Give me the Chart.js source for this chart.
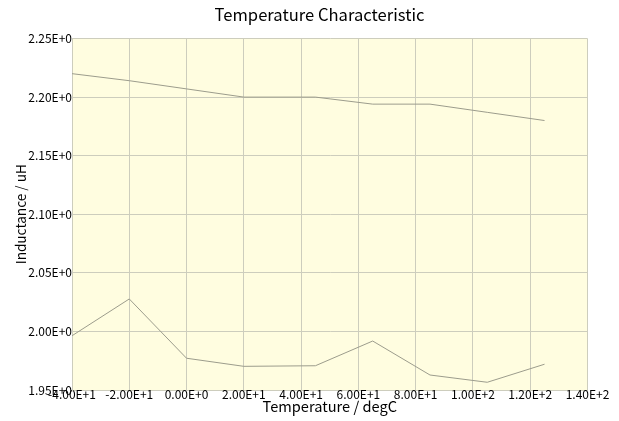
<!DOCTYPE html>
<html>
<head>
<meta charset="utf-8">
<script src="https://cdn.jsdelivr.net/npm/chart.js@4"></script>
<style>
  html, body { margin: 0; padding: 0; background: #ffffff; }
  #wrap { width: 619px; height: 421px; position: relative; }
</style>
</head>
<body>
<div id="wrap"><canvas id="c" width="619" height="421"></canvas></div>
<script>
// Data
const temperatures = [-40, -20, 0, 20, 45, 65, 85, 105, 125];
const inductanceUpper = [2.220, 2.214, 2.207, 2.200, 2.200, 2.194, 2.194, 2.187, 2.180];
const inductanceLower = [1.9963, 2.0277, 1.9771, 1.9702, 1.9707, 1.9918, 1.9628, 1.9566, 1.972];
const chartTitle = 'Temperature Characteristic';
const xTitle = 'Temperature / degC';
const yTitle = 'Inductance / uH';
const xMin = -40, xMax = 140, xStep = 20;
const yMin = 1.95, yMax = 2.25, yStep = 0.05;

function sci(v) {
  if (Math.abs(v) < 1e-9) return '0.00E+0';
  let e = Math.floor(Math.log10(Math.abs(v)) + 1e-9);
  let m = v / Math.pow(10, e);
  let s = m.toFixed(2);
  if (Math.abs(parseFloat(s)) >= 10) { e += 1; s = (v / Math.pow(10, e)).toFixed(2); }
  return s + 'E' + (e >= 0 ? '+' : '') + e;
}

const toPts = (xs, ys) => xs.map((x, i) => ({ x: x, y: ys[i] }));

const bgPlugin = {
  id: 'plotBg',
  beforeDraw(chart) {
    const { ctx, chartArea: a } = chart;
    ctx.save();
    ctx.fillStyle = '#fffde0';
    ctx.fillRect(a.left, a.top, a.right - a.left, a.bottom - a.top);
    ctx.restore();
  }
};

const FONT = "'Noto Sans CJK JP', 'DejaVu Sans', sans-serif";
const lineColor = '#9c9c8c';
const gridColor = '#cdcdbd';

new Chart(document.getElementById('c'), {
  type: 'scatter',
  data: {
    datasets: [
      { data: toPts(temperatures, inductanceUpper), showLine: true, borderColor: lineColor, borderWidth: 1, pointRadius: 0, pointHoverRadius: 0, fill: false, tension: 0 },
      { data: toPts(temperatures, inductanceLower), showLine: true, borderColor: lineColor, borderWidth: 1, pointRadius: 0, pointHoverRadius: 0, fill: false, tension: 0 }
    ]
  },
  options: {
    responsive: false,
    animation: false,
    devicePixelRatio: 1,
    layout: { padding: { left: 20, right: 0, top: 0, bottom: 0 } },
    plugins: {
      legend: { display: false },
      tooltip: { enabled: false },
      title: {
        display: true,
        text: chartTitle,
        color: '#000',
        font: { family: FONT, size: 16.6, weight: 'normal', lineHeight: 1.2 },
        padding: { top: 5, bottom: 13.6 }
      }
    },
    scales: {
      x: {
        type: 'linear',
        min: xMin, max: xMax,
        ticks: { stepSize: xStep, color: '#000', padding: -2, maxRotation: 0, autoSkip: false,
                 font: { family: FONT, size: 12, lineHeight: 1 }, callback: v => sci(v) },
        grid: { color: gridColor, lineWidth: 1, tickLength: 0, drawTicks: false },
        border: { color: gridColor, width: 1 },
        title: { display: true, text: xTitle, color: '#000', font: { family: FONT, size: 14.6, lineHeight: 1.2 }, padding: { top: 0, bottom: 6 } },
        afterFit(s) { s.height = 31; s.paddingLeft = 0; s.paddingRight = 31.5; }
      },
      y: {
        type: 'linear',
        min: yMin, max: yMax,
        ticks: { stepSize: yStep, color: '#000', padding: 0, autoSkip: false,
                 font: { family: FONT, size: 12, lineHeight: 1 }, callback: v => sci(v) },
        grid: { color: gridColor, lineWidth: 1, tickLength: 0, drawTicks: false },
        border: { color: gridColor, width: 1 },
        title: { display: true, text: yTitle, color: '#000', font: { family: FONT, size: 13.6, lineHeight: 1.2 }, padding: { top: -7.2, bottom: 0 } },
        afterFit(s) { s.width = 52; s.paddingTop = 0; s.paddingBottom = 0; }
      }
    }
  },
  plugins: [bgPlugin]
});
</script>
</body>
</html>
